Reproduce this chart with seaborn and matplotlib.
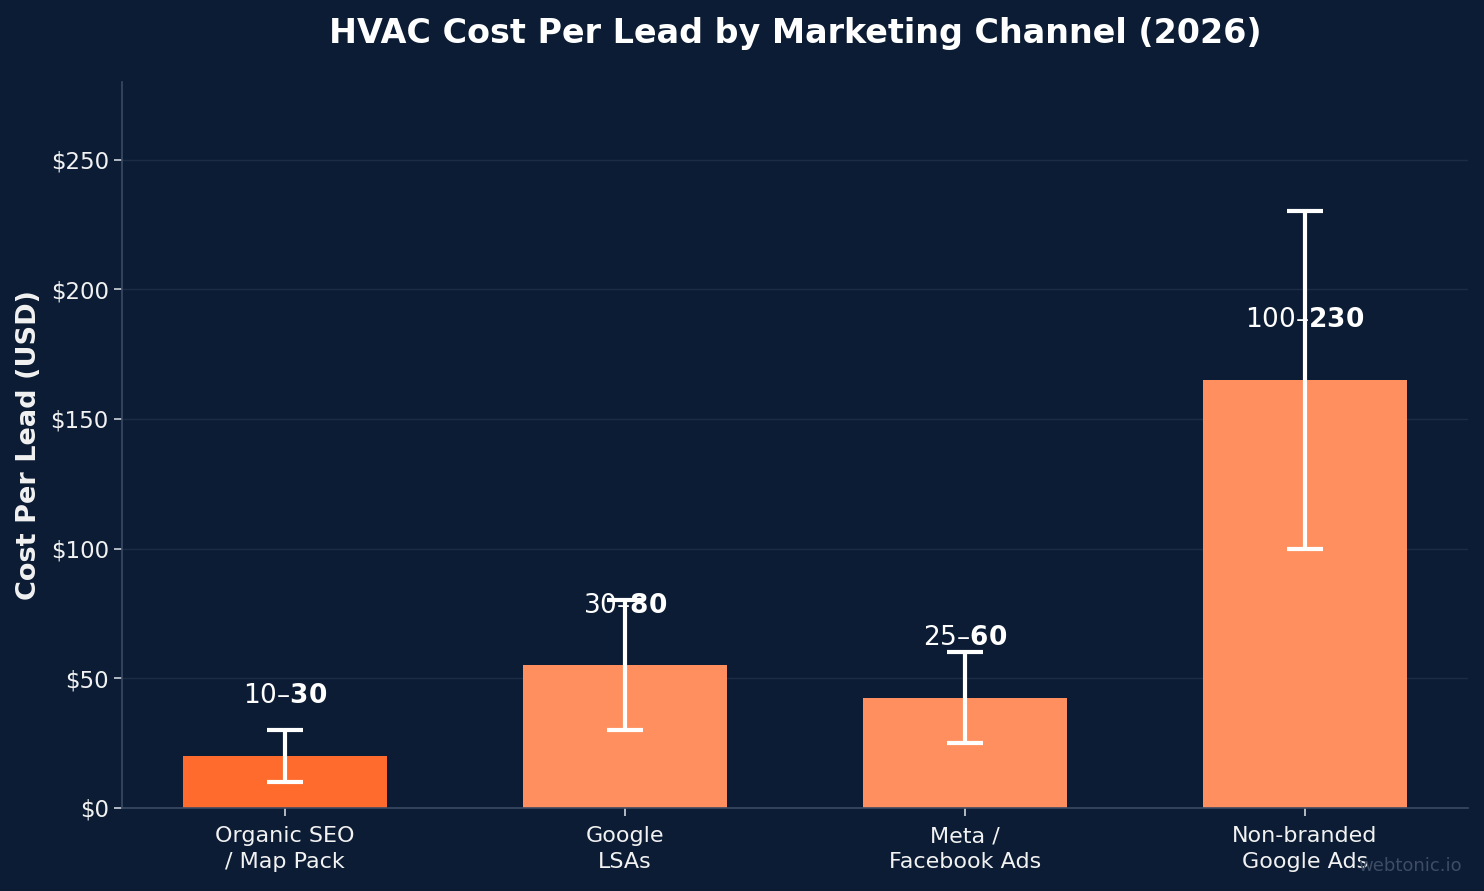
"""HVAC cost per lead by marketing channel, bar chart with range whiskers."""

import matplotlib

matplotlib.use("Agg")
import matplotlib.pyplot as plt
import pandas as pd
import seaborn as sns
from matplotlib.ticker import FuncFormatter

BG = "#0b1c34"
SPINE = "#3b4a63"
GRID = "#1c2c45"
TEXT = "#f2f2f2"

channels = ["Organic SEO\n/ Map Pack", "Google\nLSAs", "Meta /\nFacebook Ads", "Non-branded\nGoogle Ads"]
low_cost = [10, 30, 25, 100]
high_cost = [30, 80, 60, 230]
mid_cost = [20, 55, 42.5, 165]
bar_colors = ["#ff6b2c", "#ff8f5e", "#ff8f5e", "#ff8f5e"]

df = pd.DataFrame({"channel": channels, "low": low_cost, "high": high_cost, "mid": mid_cost})

sns.set_theme(style="dark")
plt.rcParams["font.family"] = ["DejaVu Sans"]

fig = plt.figure(figsize=(14.84, 8.91), dpi=100, facecolor=BG)
ax = fig.add_axes([0.0822, 0.0932, 0.907, 0.815])
ax.set_facecolor(BG)

sns.barplot(
    data=df, x="channel", y="mid", hue="channel", palette=bar_colors,
    width=0.6, legend=False, saturation=1, edgecolor="none", linewidth=0, ax=ax,
)

xs = range(len(df))
ax.errorbar(
    xs, df["mid"],
    yerr=[df["mid"] - df["low"], df["high"] - df["mid"]],
    fmt="none", ecolor="white", elinewidth=3, capsize=13, capthick=3, zorder=5,
)

for x, lo, hi, mid in zip(xs, low_cost, high_cost, mid_cost):
    # mathtext swallows the first "$...$" pair, leaving "lo–" regular and "hi" bold
    ax.text(x, mid + 23, f"${lo}–${hi}", ha="center", va="center",
            fontsize=19, fontweight="bold", color="white", zorder=6)

ax.set_ylim(0, 280)
ax.set_xlim(-0.48, 3.48)
ax.yaxis.set_major_formatter(FuncFormatter(lambda v, _: f"${v:.0f}"))
ax.set_yticks([0, 50, 100, 150, 200, 250])
ax.grid(axis="y", color=GRID, linewidth=1)
ax.grid(axis="x", visible=False)
ax.set_axisbelow(True)

for side in ["top", "right"]:
    ax.spines[side].set_visible(False)
for side in ["left", "bottom"]:
    ax.spines[side].set_visible(True)
    ax.spines[side].set_color(SPINE)
    ax.spines[side].set_linewidth(1.2)

ax.tick_params(axis="both", colors="#cfd4db", labelcolor=TEXT, labelsize=16,
               length=6, width=1.2, left=True, bottom=True)
ax.tick_params(axis="x", pad=7)
ax.tick_params(axis="y", labelsize=16.5)
for label in ax.get_xticklabels():
    label.set_linespacing(1.35)
ax.set_xlabel("")
ax.set_ylabel("Cost Per Lead (USD)", fontsize=19.5, fontweight="bold", color=TEXT, labelpad=6)
ax.set_title("HVAC Cost Per Lead by Marketing Channel (2026)", fontsize=24,
             fontweight="bold", color="white", pad=28)

# watermark sits in the corner, partly behind the last tick label as in the source
fig.text(0.985, 0.028, "webtonic.io", ha="right", va="center", fontsize=13,
         color="#3e4c64")

fig.savefig("out.png", dpi=100, facecolor=BG)
